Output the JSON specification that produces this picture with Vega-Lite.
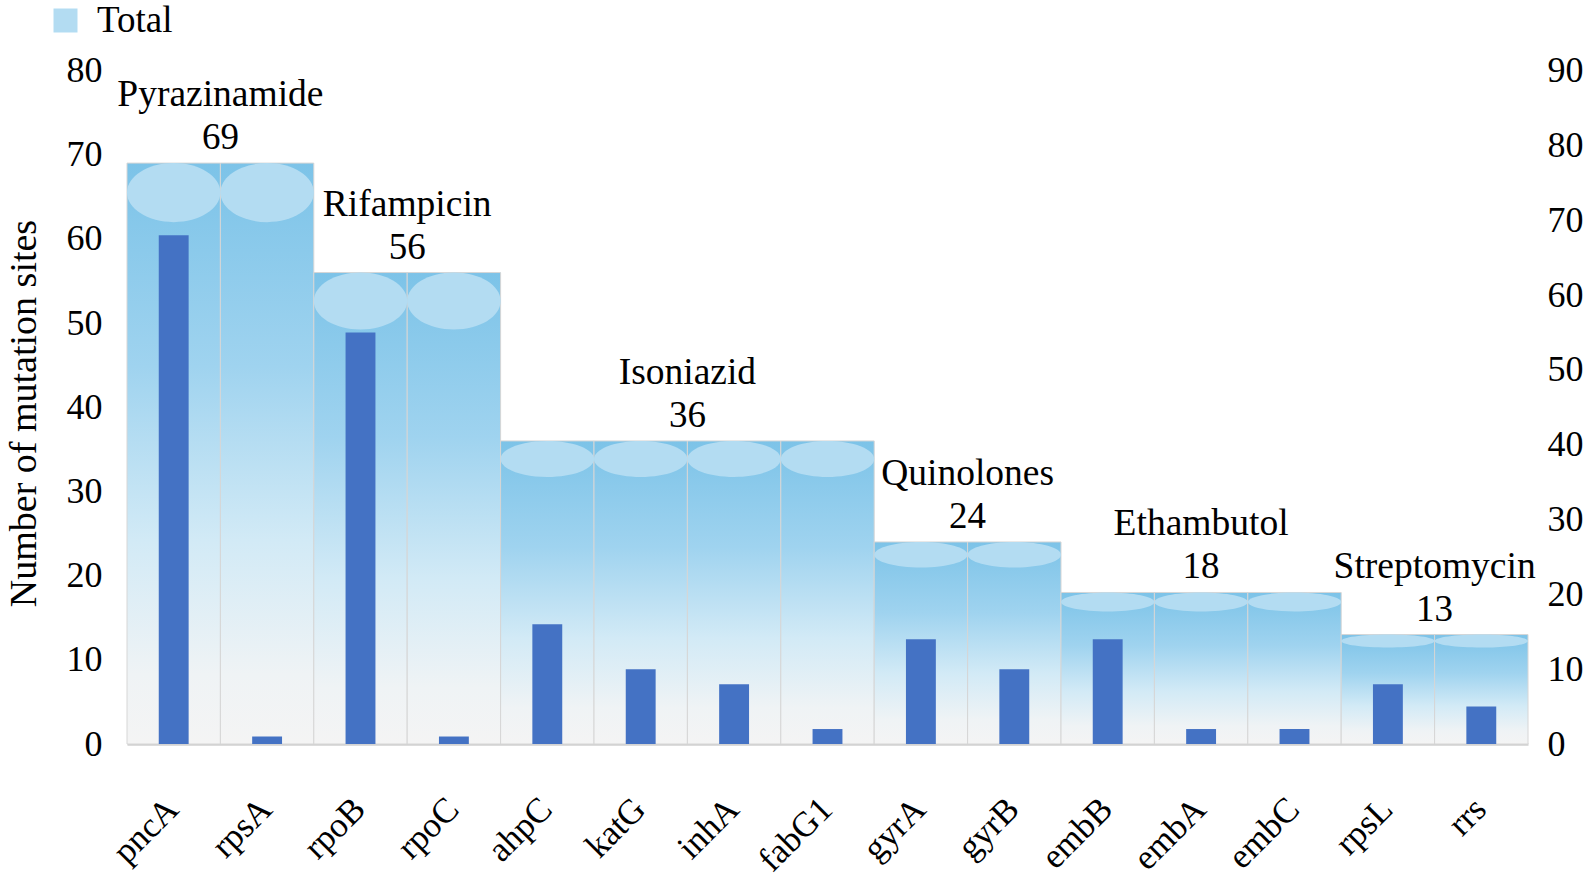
{
  "$schema": "https://vega.github.io/schema/vega-lite/v6.json",
  "width": 1401,
  "height": 673.5,
  "autosize": {"type": "none"},
  "padding": {"left": 127, "top": 70.5, "right": 67, "bottom": 135},
  "background": "white",
  "config": {
    "view": {"stroke": null},
    "font": "Liberation Serif",
    "axis": {"labelFont": "Liberation Serif", "titleFont": "Liberation Serif", "labelColor": "#000000", "titleColor": "#000000"}
  },
  "datasets": {
    "genes": [
      {"gene": "pncA", "drug": "Pyrazinamide", "total": 69, "sites": 68},
      {"gene": "rpsA", "drug": "Pyrazinamide", "total": 69, "sites": 1},
      {"gene": "rpoB", "drug": "Rifampicin", "total": 56, "sites": 55},
      {"gene": "rpoC", "drug": "Rifampicin", "total": 56, "sites": 1},
      {"gene": "ahpC", "drug": "Isoniazid", "total": 36, "sites": 16},
      {"gene": "katG", "drug": "Isoniazid", "total": 36, "sites": 10},
      {"gene": "inhA", "drug": "Isoniazid", "total": 36, "sites": 8},
      {"gene": "fabG1", "drug": "Isoniazid", "total": 36, "sites": 2},
      {"gene": "gyrA", "drug": "Quinolones", "total": 24, "sites": 14},
      {"gene": "gyrB", "drug": "Quinolones", "total": 24, "sites": 10},
      {"gene": "embB", "drug": "Ethambutol", "total": 18, "sites": 14},
      {"gene": "embA", "drug": "Ethambutol", "total": 18, "sites": 2},
      {"gene": "embC", "drug": "Ethambutol", "total": 18, "sites": 2},
      {"gene": "rpsL", "drug": "Streptomycin", "total": 13, "sites": 8},
      {"gene": "rrs", "drug": "Streptomycin", "total": 13, "sites": 5}
    ],
    "drugs": [
      {"drug": "Pyrazinamide", "total": 69, "gene": "pncA"},
      {"drug": "Rifampicin", "total": 56, "gene": "rpoB"},
      {"drug": "Isoniazid", "total": 36, "gene": "katG"},
      {"drug": "Quinolones", "total": 24, "gene": "gyrA"},
      {"drug": "Ethambutol", "total": 18, "gene": "embA"},
      {"drug": "Streptomycin", "total": 13, "gene": "rpsL"}
    ]
  },
  "layer": [
    {
      "layer": [
        {
          "data": {"name": "genes"},
          "mark": {
            "type": "bar",
            "fill": {
              "gradient": "linear", "x1": 0, "y1": 0, "x2": 0, "y2": 1,
              "stops": [
                {"offset": 0, "color": "#7cc3e8"},
                {"offset": 0.35, "color": "#9fd3ef"},
                {"offset": 0.65, "color": "#d2eaf6"},
                {"offset": 0.88, "color": "#eff3f5"},
                {"offset": 1, "color": "#f4f4f4"}
              ]
            },
            "stroke": "#d6d6d6",
            "strokeWidth": 1
          },
          "encoding": {
            "x": {
              "field": "gene", "type": "nominal",
              "scale": {"domain": ["pncA", "rpsA", "rpoB", "rpoC", "ahpC", "katG", "inhA", "fabG1", "gyrA", "gyrB", "embB", "embA", "embC", "rpsL", "rrs"], "paddingInner": 0, "paddingOuter": 0},
              "axis": {
                "title": null, "labelAngle": -45, "labelAlign": "right", "labelBaseline": "top",
                "labelFontSize": 35, "labelPadding": 47, "labelOffset": -13, "ticks": false,
                "domainColor": "#d0d0d0", "domainWidth": 2.5
              }
            },
            "y": {
              "field": "total", "type": "quantitative",
              "scale": {"domain": [0, 80], "nice": false},
              "axis": {
                "title": "Number of mutation sites", "values": [0, 10, 20, 30, 40, 50, 60, 70, 80],
                "domain": false, "ticks": false, "grid": false,
                "labelFontSize": 36, "labelPadding": 25,
                "titleFontSize": 38, "titleFontWeight": "normal",
                "titleAngle": -90, "titleX": -92, "titleY": 342.5,
                "titleAlign": "center", "titleBaseline": "alphabetic"
              }
            }
          }
        },
        {
          "data": {"name": "genes"},
          "mark": {"type": "point", "filled": true, "opacity": 1, "size": 8724, "strokeWidth": 0},
          "encoding": {
            "x": {
              "field": "gene", "type": "nominal",
              "scale": {"domain": ["pncA", "rpsA", "rpoB", "rpoC", "ahpC", "katG", "inhA", "fabG1", "gyrA", "gyrB", "embB", "embA", "embC", "rpsL", "rrs"], "paddingInner": 0, "paddingOuter": 0}
            },
            "y": {"field": "total", "type": "quantitative", "scale": {"domain": [0, 80], "nice": false}},
            "shape": {
              "field": "drug", "type": "nominal", "legend": null,
              "scale": {
                "domain": ["Pyrazinamide", "Rifampicin", "Isoniazid", "Quinolones", "Ethambutol", "Streptomycin"],
                "range": [
                  "M-1,0.632 C-1,0.283 -0.552,0 0,0 C0.552,0 1,0.283 1,0.632 C1,0.981 0.552,1.264 0,1.264 C-0.552,1.264 -1,0.981 -1,0.632 Z",
                  "M-1,0.61 C-1,0.273 -0.552,0 0,0 C0.552,0 1,0.273 1,0.61 C1,0.947 0.552,1.22 0,1.22 C-0.552,1.22 -1,0.947 -1,0.61 Z",
                  "M-1,0.385 C-1,0.172 -0.552,0 0,0 C0.552,0 1,0.172 1,0.385 C1,0.598 0.552,0.77 0,0.77 C-0.552,0.77 -1,0.598 -1,0.385 Z",
                  "M-1,0.273 C-1,0.122 -0.552,0 0,0 C0.552,0 1,0.122 1,0.273 C1,0.424 0.552,0.546 0,0.546 C-0.552,0.546 -1,0.424 -1,0.273 Z",
                  "M-1,0.203 C-1,0.091 -0.552,0 0,0 C0.552,0 1,0.091 1,0.203 C1,0.315 0.552,0.406 0,0.406 C-0.552,0.406 -1,0.315 -1,0.203 Z",
                  "M-1,0.139 C-1,0.062 -0.552,0 0,0 C0.552,0 1,0.062 1,0.139 C1,0.216 0.552,0.278 0,0.278 C-0.552,0.278 -1,0.216 -1,0.139 Z"
                ]
              }
            },
            "color": {
              "datum": "Total",
              "scale": {"range": ["#b3dcf2"]},
              "legend": {
                "title": null, "orient": "none", "legendX": -80, "legendY": -68.5,
                "padding": 0, "symbolType": "square", "symbolSize": 576, "symbolStrokeWidth": 0,
                "labelFontSize": 37, "labelFont": "Liberation Serif", "labelColor": "#000000", "labelOffset": 13
              }
            }
          }
        },
        {
          "data": {"name": "drugs"},
          "transform": [{"filter": "datum.drug != 'Ethambutol'"}],
          "mark": {"type": "text", "fontSize": 37, "color": "#000000", "baseline": "alphabetic", "dy": -14},
          "encoding": {
            "x": {
              "field": "gene", "type": "nominal", "bandPosition": 1,
              "scale": {"domain": ["pncA", "rpsA", "rpoB", "rpoC", "ahpC", "katG", "inhA", "fabG1", "gyrA", "gyrB", "embB", "embA", "embC", "rpsL", "rrs"], "paddingInner": 0, "paddingOuter": 0}
            },
            "y": {"field": "total", "type": "quantitative", "scale": {"domain": [0, 80], "nice": false}},
            "text": {"field": "total", "type": "quantitative"}
          }
        },
        {
          "data": {"name": "drugs"},
          "transform": [{"filter": "datum.drug != 'Ethambutol'"}],
          "mark": {"type": "text", "fontSize": 37.5, "color": "#000000", "baseline": "alphabetic", "dy": -57},
          "encoding": {
            "x": {
              "field": "gene", "type": "nominal", "bandPosition": 1,
              "scale": {"domain": ["pncA", "rpsA", "rpoB", "rpoC", "ahpC", "katG", "inhA", "fabG1", "gyrA", "gyrB", "embB", "embA", "embC", "rpsL", "rrs"], "paddingInner": 0, "paddingOuter": 0}
            },
            "y": {"field": "total", "type": "quantitative", "scale": {"domain": [0, 80], "nice": false}},
            "text": {"field": "drug", "type": "nominal"}
          }
        },
        {
          "data": {"name": "drugs"},
          "transform": [{"filter": "datum.drug == 'Ethambutol'"}],
          "mark": {"type": "text", "fontSize": 37, "color": "#000000", "baseline": "alphabetic", "dy": -14},
          "encoding": {
            "x": {
              "field": "gene", "type": "nominal", "bandPosition": 0.5,
              "scale": {"domain": ["pncA", "rpsA", "rpoB", "rpoC", "ahpC", "katG", "inhA", "fabG1", "gyrA", "gyrB", "embB", "embA", "embC", "rpsL", "rrs"], "paddingInner": 0, "paddingOuter": 0}
            },
            "y": {"field": "total", "type": "quantitative", "scale": {"domain": [0, 80], "nice": false}},
            "text": {"field": "total", "type": "quantitative"}
          }
        },
        {
          "data": {"name": "drugs"},
          "transform": [{"filter": "datum.drug == 'Ethambutol'"}],
          "mark": {"type": "text", "fontSize": 37.5, "color": "#000000", "baseline": "alphabetic", "dy": -57},
          "encoding": {
            "x": {
              "field": "gene", "type": "nominal", "bandPosition": 0.5,
              "scale": {"domain": ["pncA", "rpsA", "rpoB", "rpoC", "ahpC", "katG", "inhA", "fabG1", "gyrA", "gyrB", "embB", "embA", "embC", "rpsL", "rrs"], "paddingInner": 0, "paddingOuter": 0}
            },
            "y": {"field": "total", "type": "quantitative", "scale": {"domain": [0, 80], "nice": false}},
            "text": {"field": "drug", "type": "nominal"}
          }
        }
      ]
    },
    {
      "data": {"name": "genes"},
      "mark": {"type": "bar", "color": "#4472C4", "width": {"band": 0.32}},
      "encoding": {
        "x": {
          "field": "gene", "type": "nominal",
          "scale": {"domain": ["pncA", "rpsA", "rpoB", "rpoC", "ahpC", "katG", "inhA", "fabG1", "gyrA", "gyrB", "embB", "embA", "embC", "rpsL", "rrs"], "paddingInner": 0, "paddingOuter": 0}
        },
        "y": {
          "field": "sites", "type": "quantitative",
          "scale": {"domain": [0, 90], "nice": false},
          "axis": {
            "orient": "right", "title": null, "values": [0, 10, 20, 30, 40, 50, 60, 70, 80, 90],
            "domain": false, "ticks": false, "grid": false,
            "labelFontSize": 36, "labelPadding": 19, "labelAlign": "left"
          }
        }
      }
    }
  ],
  "resolve": {"scale": {"y": "independent"}, "axis": {"y": "independent"}}
}
